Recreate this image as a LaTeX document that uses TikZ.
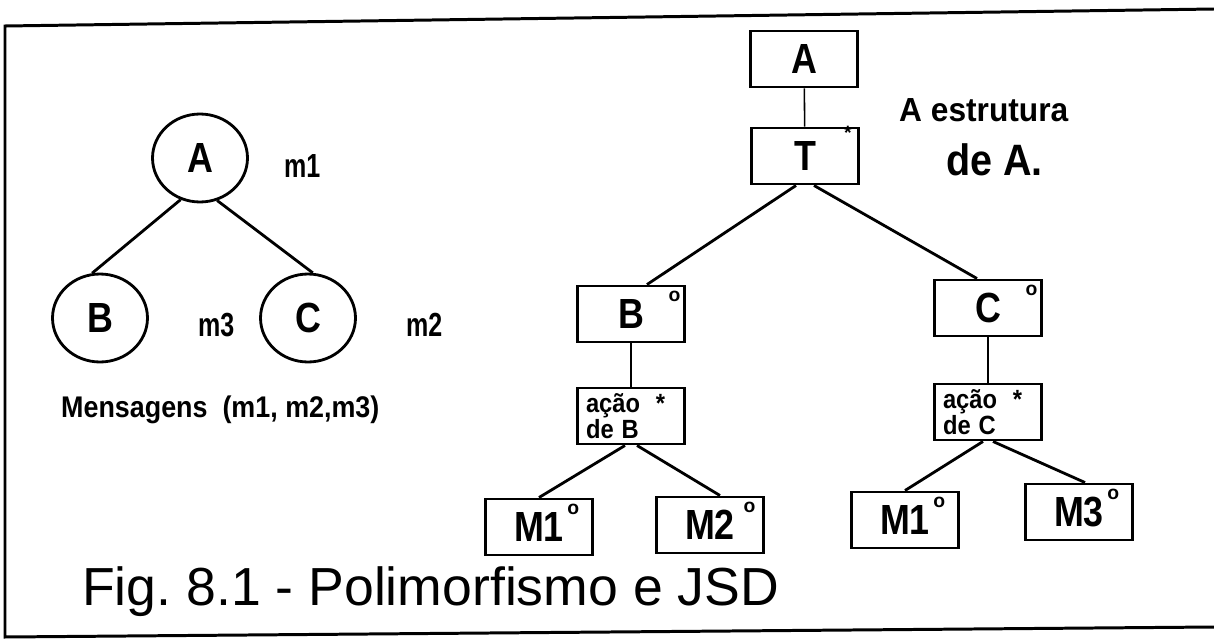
\documentclass[tikz,border=0pt]{standalone}
\usepackage{fontspec}
\setmainfont{Liberation Sans}
\usepackage{graphicx}
\usepackage{tikz}
\usetikzlibrary{shapes.geometric}
\frenchspacing
\newcommand{\cond}[2][0.85]{\scalebox{#1}[1]{\bfseries #2}}
\newcommand{\selo}[1]{\rlap{\hspace{#1}\smash{\raisebox{1.2ex}{\fontsize{11}{11}\selectfont\bfseries o}}}}
\newcommand{\itro}[1]{\rlap{\hspace{#1}\smash{\raisebox{1.4ex}{\fontsize{11}{11}\selectfont\bfseries *}}}}

\begin{document}
\begin{tikzpicture}[x=0.02cm, y=-0.02cm,
	oval/.style={draw, ellipse, line width=1.6pt, minimum width=1.9cm, minimum height=1.76cm, inner sep=0pt, font=\fontsize{24}{24}\selectfont},
	jsdbox/.style={draw, line width=1.4pt, minimum width=2.14cm, minimum height=1.13cm, inner sep=0pt, font=\fontsize{24}{24}\selectfont},
	acbox/.style={jsdbox, align=left, text width=1.8cm, font=\fontsize{15}{13}\selectfont},
	tie/.style={line width=1.6pt},
	stem/.style={line width=0.9pt}]
	\useasboundingbox (0,0) rectangle (1214,639);
	\draw [line width=1.7pt] (1214,9) -- (5,26) -- (5,637) -- (1214,627);
	
	\node [oval] (oA) at (200,158) {\cond{A}};
	\node [font=\fontsize{19}{19}\selectfont, anchor=west] (lm1) at (278,166) {\cond[0.75]{m1}};
	\foreach \x/\name/\msg in {
		100/B/m3,
		308/C/m2
	}
	{
		\node [oval] (o\name) at (\x,318) {\cond{\name}};
		\node [font=\fontsize{19}{19}\selectfont, anchor=west] (l\msg) at (\x+92,325) {\cond[0.75]{\msg}};
	}
	\draw [tie] (oA.245) -- (oB.100);
	\draw [tie] (oA.292) -- (oC.84);
	\node [font=\fontsize{17}{17}\selectfont, anchor=west] (msgs) at (55,410) {\cond[0.9]{Mensagens\ \ (m1, m2,m3)}};
	
	\foreach \x/\y/\name/\txt in {
		804/59/bA/{\cond{A}},
		805/156/bT/{\cond{T}\itro{16pt}},
		631/314/bB/{\cond{B}\selo{14pt}},
		988/308/bC/{\cond{C}\selo{14pt}},
		539/527/mB1/{\cond{M1}\selo{2pt}},
		710/525/mB2/{\cond{M2}\selo{5pt}},
		905/520/mC1/{\cond{M1}\selo{2pt}},
		1079/512/mC3/{\cond{M3}\selo{2pt}}
	}
	{
		\node [jsdbox] (\name) at (\x,\y) {\txt};
	}
	\node [acbox] (acB) at (631,416) {\cond[0.9]{ação\ \ *}\\\cond[0.9]{de B}};
	\node [acbox] (acC) at (988,412) {\cond[0.9]{ação\ \ *}\\\cond[0.9]{de C}};
	
	\draw [stem] (bA) -- (bT);
	\draw [stem] (bB) -- (acB);
	\draw [stem] (bC) -- (acC);
	\draw [tie] ([xshift=-0.18cm]bT.south) -- ([xshift=0.32cm]bB.north);
	\draw [tie] ([xshift=0.18cm]bT.south) -- ([xshift=-0.22cm]bC.north);
	\draw [tie] ([xshift=-0.12cm]acB.south) -- (mB1.north);
	\draw [tie] ([xshift=0.12cm]acB.south) -- ([xshift=0.2cm]mB2.north);
	\draw [tie] ([xshift=-0.1cm]acC.south) -- (mC1.north);
	\draw [tie] ([xshift=0.1cm]acC.south) -- ([xshift=0.12cm]mC3.north);
	
	\node [font=\fontsize{19}{19}\selectfont, anchor=west] (estA) at (893,110) {\cond[0.95]{A estrutura}};
	\node [font=\fontsize{25}{25}\selectfont, anchor=west] (deA) at (940,160) {\cond[0.9]{de A.}};
	\node [font=\fontsize{30.5}{30.5}\selectfont, anchor=base west] (fig) at (76,605) {Fig. 8.1 - Polimorfismo e JSD};
\end{tikzpicture}
\end{document}
